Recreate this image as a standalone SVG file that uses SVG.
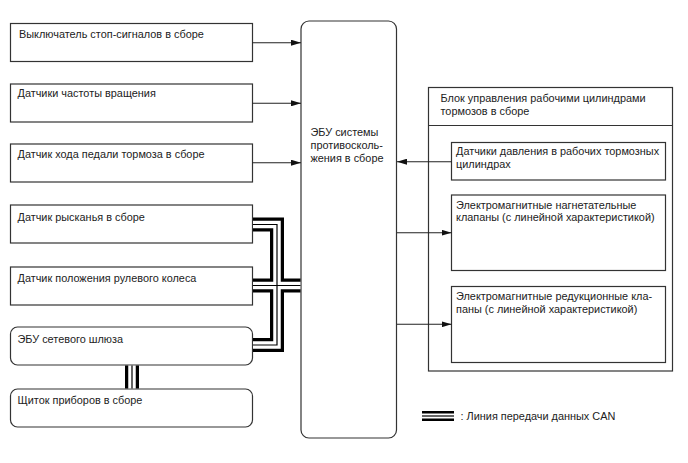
<svg xmlns="http://www.w3.org/2000/svg" width="688" height="463" viewBox="0 0 688 463">
<defs>
<style>
.box{fill:#fff;stroke:#333;stroke-width:1.2}
.t{font-family:"Liberation Sans",Arial,sans-serif;font-size:10.9px;fill:#222}
.ln{fill:none;stroke:#222;stroke-width:1.1}
.c1{fill:none;stroke:#000;stroke-width:14;stroke-linejoin:miter;stroke-linecap:butt}
.c2{fill:none;stroke:#fff;stroke-width:7.5;stroke-linejoin:miter;stroke-linecap:butt}
.c3{fill:none;stroke:#000;stroke-width:1.2;stroke-linejoin:miter;stroke-linecap:butt}
.l1{fill:none;stroke:#000;stroke-width:10}
.l2{fill:none;stroke:#fff;stroke-width:5}
.l3{fill:none;stroke:#000;stroke-width:1.2}
</style>
<marker id="ah" markerWidth="10" markerHeight="6" refX="10" refY="3" orient="auto" markerUnits="userSpaceOnUse">
<path d="M0,0 L10,3 L0,6 z" fill="#111"/>
</marker>
</defs>
<rect width="688" height="463" fill="#fff"/>
<g id="n_stop"><rect class="box" x="10.5" y="23.5" width="242" height="38"/><text class="t" x="19" y="37.5">Выключатель стоп-сигналов в сборе</text></g>
<g id="n_speed"><rect class="box" x="10.5" y="84" width="242" height="38"/><text class="t" x="17.5" y="97">Датчики частоты вращения</text></g>
<g id="n_pedal"><rect class="box" x="10.5" y="144" width="242" height="38"/><text class="t" x="17.5" y="158">Датчик хода педали тормоза в сборе</text></g>
<g id="n_yaw"><rect class="box" x="10.5" y="205" width="242" height="38"/><text class="t" x="17.5" y="220.5">Датчик рысканья в сборе</text></g>
<g id="n_steer"><rect class="box" x="10.5" y="267" width="242" height="38"/><text class="t" x="17.5" y="282">Датчик положения рулевого колеса</text></g>
<g id="n_gw"><rect class="box" x="10.5" y="327" width="242" height="38" rx="7"/><text class="t" x="17.5" y="343">ЭБУ сетевого шлюза</text></g>
<g id="n_cluster"><rect class="box" x="10.5" y="389" width="242" height="38" rx="7"/><text class="t" x="17.5" y="404">Щиток приборов в сборе</text></g>
<g id="n_ecu"><rect class="box" x="301" y="21" width="95.5" height="417" rx="8" stroke="#444" stroke-width="1.4"/>
<text class="t" x="310.5" y="135.5">ЭБУ системы</text><text class="t" x="310.5" y="148.5">противосколь-</text><text class="t" x="310.5" y="161.5">жения в сборе</text></g>
<g id="n_block"><rect class="box" x="428.5" y="87.5" width="244" height="283.5"/><line x1="428.5" y1="125.5" x2="672.5" y2="125.5" stroke="#333" stroke-width="1.2"/>
<text class="t" x="440.5" y="101.5">Блок управления рабочими цилиндрами</text><text class="t" x="440.5" y="115">тормозов в сборе</text></g>
<g id="n_press"><rect class="box" x="451.5" y="142.5" width="214" height="37.5"/><text class="t" x="456" y="155">Датчики давления в рабочих тормозных</text><text class="t" x="456" y="168">цилиндрах</text></g>
<g id="n_inc"><rect class="box" x="451.5" y="195" width="214" height="75.5"/><text class="t" x="456" y="208.5">Электромагнитные нагнетательные</text><text class="t" x="456" y="221">клапаны (с линейной характеристикой)</text></g>
<g id="n_red"><rect class="box" x="451.5" y="286.5" width="214" height="76"/><text class="t" x="456" y="300">Электромагнитные редукционные кла-</text><text class="t" x="456" y="312.5">паны (с линейной характеристикой)</text></g>
<g id="connectors">
<path class="ln" d="M252.5,42.7 H301" marker-end="url(#ah)"/>
<path class="ln" d="M252.5,103.3 H301" marker-end="url(#ah)"/>
<path class="ln" d="M252.5,162.7 H301" marker-end="url(#ah)"/>
<path class="ln" d="M451.5,161.7 H397" marker-end="url(#ah)"/>
<path class="ln" d="M397,232.7 H451.5" marker-end="url(#ah)"/>
<path class="ln" d="M397,324.3 H451.5" marker-end="url(#ah)"/>
<g id="can">
<path class="c1" d="M253,224.5 H277 V285.5 H300.5 M253,285.5 H300.5 M253,345 H277 V285.5 M132,365.5 V388.5"/>
<path class="c2" d="M253,224.5 H277 V285.5 H300.5 M253,285.5 H300.5 M253,345 H277 V285.5 M132,365.5 V388.5"/>
<path class="c3" d="M253,224.5 H277 V285.5 H300.5 M253,285.5 H300.5 M253,345 H277 V285.5 M132,365.5 V388.5"/>
</g>
</g>
<g id="legend">
<path class="l1" d="M422,416 H454"/><path class="l2" d="M422,416 H454"/><path class="l3" d="M422,416 H454"/>
<text class="t" x="460.5" y="419.5">: Линия передачи данных CAN</text>
</g>
</svg>
